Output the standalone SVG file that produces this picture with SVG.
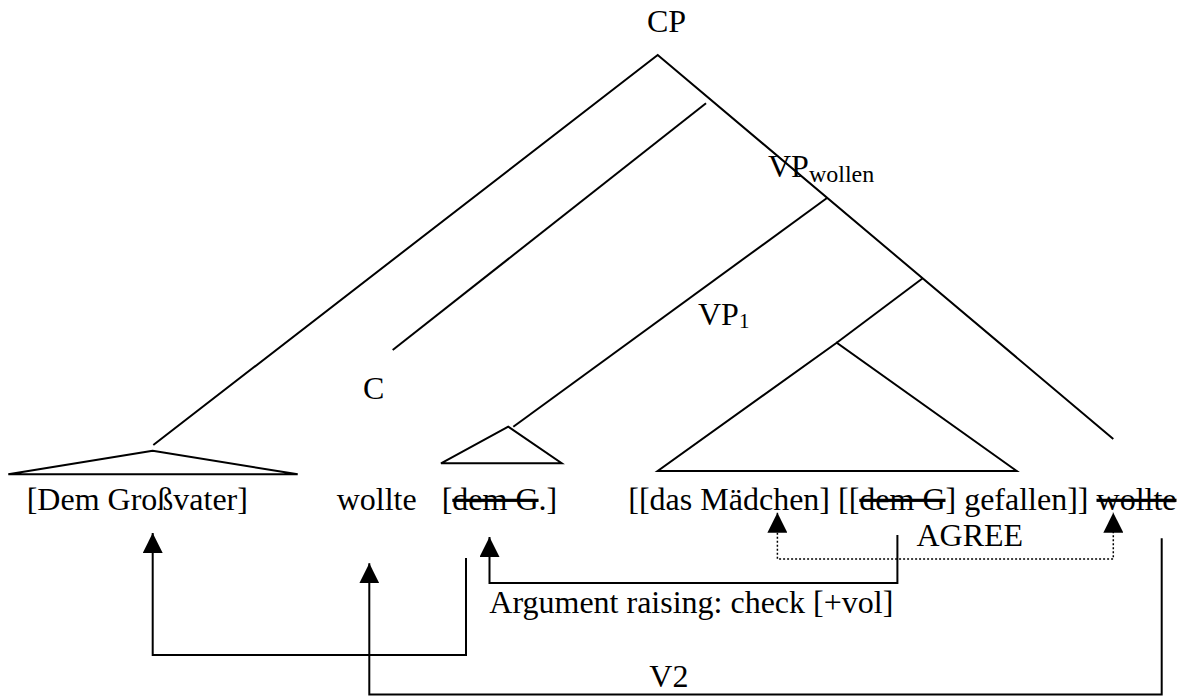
<svg xmlns="http://www.w3.org/2000/svg" width="1180" height="696" viewBox="0 0 1180 696">
<style>
text{font-family:"Liberation Serif","Times New Roman",serif;font-size:32px;fill:#000}
.sub{font-size:21px}
.subw{font-size:24px}
.ln{fill:none;stroke:#000;stroke-width:2}
.dot{fill:none;stroke:#000;stroke-width:1.5;stroke-dasharray:2 2}
.st{text-decoration:line-through}
</style>
<defs>
<marker id="arr" markerUnits="userSpaceOnUse" viewBox="0 0 20 20" markerWidth="20" markerHeight="20" refX="20" refY="10" orient="auto-start-reverse">
<path d="M0,0 L20,10 L0,20 z" fill="#000"/>
</marker>
</defs>
<rect width="1180" height="696" fill="#fff"/>
<g id="connectors">
<path class="ln" d="M153.3,445 L657.7,55 L1113.3,439"/>
<path class="ln" d="M706,103.3 L392.7,350"/>
<path class="ln" d="M827,198 L513.3,426.7"/>
<path class="ln" d="M922.7,278.3 L836.7,342.7"/>
<path class="ln" d="M152.7,450.7 L8.3,474.3 L297.7,474.3 Z"/>
<path class="ln" d="M508.3,426.7 L441,463.3 L561.7,463.3 Z"/>
<path class="ln" d="M836.7,342.7 L657.7,471 L1016.7,471 Z"/>
<path class="ln" d="M466,558 V655 H152.7 V533" marker-end="url(#arr)"/>
<path class="ln" d="M1161.7,538.3 V694.5 H369.3 V563.3" marker-end="url(#arr)"/>
<path class="ln" d="M897.4,535 V583 H489.5 V537" marker-end="url(#arr)"/>
<path class="dot" d="M777.4,512.7 V559 H1113.3 V512.7" marker-start="url(#arr)" marker-end="url(#arr)"/>
</g>
<g id="node-cp"><text x="647" y="32">CP</text></g>
<g id="node-vpwollen"><text x="768" y="177">VP<tspan class="subw" dy="5">wollen</tspan></text></g>
<g id="node-vp1"><text x="698" y="325">VP<tspan class="sub" dy="3">1</tspan></text></g>
<g id="node-c"><text x="363" y="399">C</text></g>
<g id="node-grossvater"><text x="26.7" y="510">[Dem Großvater]</text></g>
<g id="node-wollte"><text x="336.7" y="510">wollte</text></g>
<g id="node-demg"><text x="441.7" y="510">[<tspan class="st">dem G</tspan>.]</text></g>
<g id="node-vp-content"><text x="628.3" y="510">[[das Mädchen] [[<tspan class="st">dem G</tspan>] gefallen]] <tspan class="st">wollte</tspan></text></g>
<g id="label-agree"><text x="916.5" y="545.5">AGREE</text></g>
<g id="label-argument"><text x="489.3" y="612.5">Argument raising: check [+vol]</text></g>
<g id="label-v2"><text x="649.3" y="686.5">V2</text></g>
</svg>
